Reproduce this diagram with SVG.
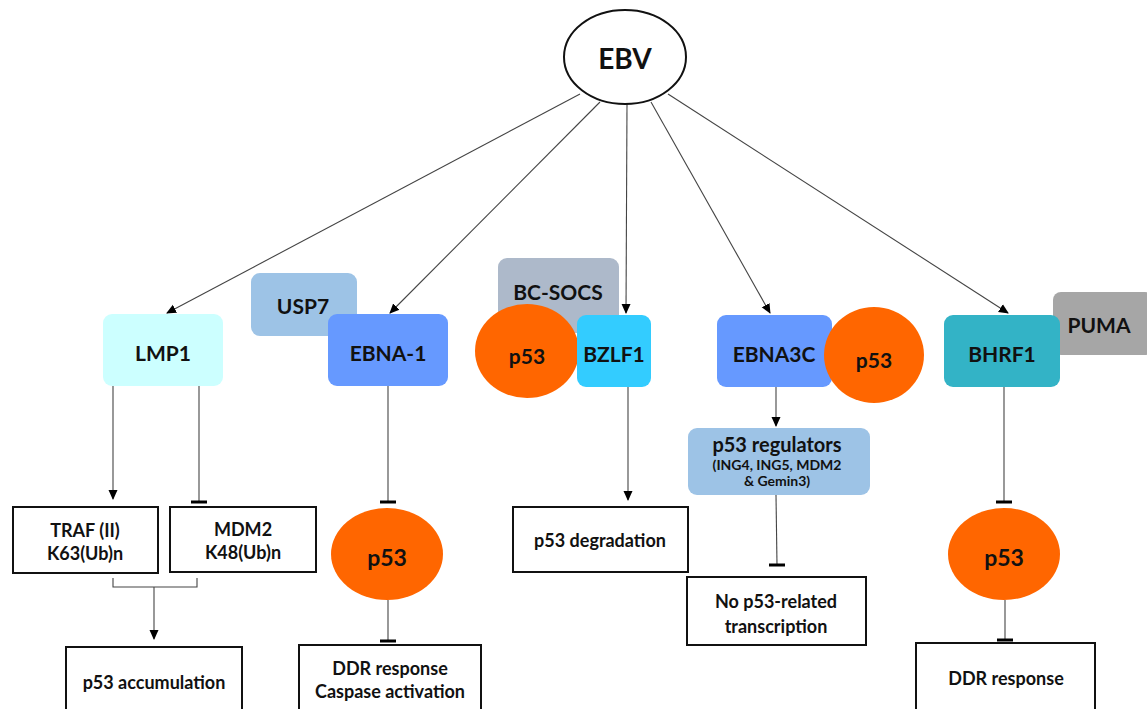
<svg xmlns="http://www.w3.org/2000/svg" width="1147" height="709" viewBox="0 0 1147 709">
<defs>
<marker id="arr" markerWidth="10" markerHeight="10" refX="9" refY="5" orient="auto" markerUnits="userSpaceOnUse">
<path d="M0,0.5 L10,5 L0,9.5 Z" fill="#000"/>
</marker>
<marker id="tbar" markerWidth="4" markerHeight="18" refX="2" refY="9" orient="auto" markerUnits="userSpaceOnUse">
<path d="M2,1 L2,17" stroke="#000" stroke-width="3"/>
</marker>
<style>
text{font-family:"Lato","Open Sans","Liberation Sans",sans-serif;font-weight:bold;fill:#111;text-anchor:middle;dominant-baseline:central}
.c{stroke:#444;stroke-width:1.1;fill:none}
.box{fill:#fff;stroke:#111;stroke-width:2}
.p53{fill:#FF6600}
.n{font-size:21px}
.b{font-size:18px}
</style>
</defs>
<rect width="1147" height="709" fill="#fff"/>

<g id="connectors">
<line class="c" x1="580" y1="94" x2="167" y2="313" marker-end="url(#arr)"/>
<line class="c" x1="600" y1="102" x2="390" y2="313" marker-end="url(#arr)"/>
<line class="c" x1="627" y1="104" x2="626" y2="313" marker-end="url(#arr)"/>
<line class="c" x1="651" y1="102" x2="770" y2="313" marker-end="url(#arr)"/>
<line class="c" x1="668" y1="94" x2="1008" y2="313" marker-end="url(#arr)"/>
<line class="c" x1="113" y1="386" x2="113" y2="499" marker-end="url(#arr)"/>
<line class="c" x1="199" y1="386" x2="199" y2="502" marker-end="url(#tbar)"/>
<polyline class="c" points="113,578 113,587 197,587 197,578"/>
<line class="c" x1="154" y1="587" x2="154" y2="639" marker-end="url(#arr)"/>
<line class="c" x1="388" y1="386" x2="388" y2="502" marker-end="url(#tbar)"/>
<line class="c" x1="388" y1="600" x2="388" y2="641" marker-end="url(#tbar)"/>
<line class="c" x1="628" y1="387" x2="628" y2="500" marker-end="url(#arr)"/>
<line class="c" x1="776" y1="387" x2="776" y2="426" marker-end="url(#arr)"/>
<line class="c" x1="776" y1="495" x2="777" y2="565" marker-end="url(#tbar)"/>
<line class="c" x1="1004" y1="387" x2="1004" y2="502" marker-end="url(#tbar)"/>
<line class="c" x1="1005" y1="600" x2="1005" y2="640" marker-end="url(#tbar)"/>
</g>

<g id="ebv">
<ellipse cx="625" cy="57" rx="61" ry="47" fill="#fff" stroke="#111" stroke-width="2"/>
<text x="625" y="58" style="font-size:28px">EBV</text>
</g>

<g id="lmp1">
<rect x="103" y="314" width="120" height="72" rx="9" fill="#CCFFFF"/>
<text class="n" x="163" y="352">LMP1</text>
</g>

<g id="usp7">
<rect x="251" y="273" width="106" height="63" rx="9" fill="#9DC3E6"/>
<text class="n" x="303" y="305">USP7</text>
</g>

<g id="ebna1">
<rect x="328" y="314" width="120" height="72" rx="9" fill="#6699FF"/>
<text class="n" x="388" y="352">EBNA-1</text>
</g>

<g id="bcsocs">
<rect x="498" y="258" width="121" height="75" rx="9" fill="#ADB9CA"/>
<text class="n" x="558" y="291">BC-SOCS</text>
</g>

<g id="p53-bzlf1">
<ellipse class="p53" cx="527" cy="351" rx="52" ry="47"/>
<text class="n" x="527" y="355">p53</text>
</g>

<g id="bzlf1">
<rect x="577" y="315" width="74" height="72" rx="9" fill="#33CCFF"/>
<text class="n" x="614" y="353">BZLF1</text>
</g>

<g id="ebna3c">
<rect x="717" y="315" width="115" height="72" rx="9" fill="#6699FF"/>
<text class="n" x="774" y="353">EBNA3C</text>
</g>

<g id="p53-ebna3c">
<ellipse class="p53" cx="874" cy="355" rx="50" ry="48"/>
<text class="n" x="874" y="359">p53</text>
</g>

<g id="puma">
<rect x="1053" y="292" width="100" height="63" rx="8" fill="#A6A6A6"/>
<text class="n" x="1099" y="324">PUMA</text>
</g>

<g id="bhrf1">
<rect x="944" y="315" width="116" height="72" rx="9" fill="#33B3C6"/>
<text class="n" x="1002" y="353">BHRF1</text>
</g>

<g id="traf">
<rect class="box" x="13" y="507" width="145" height="66"/>
<text class="b" x="85" y="530">TRAF (II)</text>
<text class="b" x="85" y="553">K63(Ub)n</text>
</g>

<g id="mdm2">
<rect class="box" x="170" y="507" width="146" height="65"/>
<text class="b" x="243" y="529">MDM2</text>
<text class="b" x="243" y="552">K48(Ub)n</text>
</g>

<g id="p53-accum">
<rect class="box" x="66" y="647" width="176" height="70"/>
<text class="b" x="154" y="682">p53 accumulation</text>
</g>

<g id="p53-ebna1">
<ellipse class="p53" cx="387" cy="554" rx="56" ry="46"/>
<text x="387" y="557" style="font-size:23px">p53</text>
</g>

<g id="ddr-caspase">
<rect class="box" x="299" y="645" width="182" height="70"/>
<text class="b" x="390" y="668">DDR response</text>
<text class="b" x="390" y="691">Caspase activation</text>
</g>

<g id="p53-degradation">
<rect class="box" x="513" y="507" width="175" height="65"/>
<text class="b" x="600" y="540">p53 degradation</text>
</g>

<g id="p53-regulators">
<rect x="688" y="428" width="182" height="67" rx="9" fill="#9DC3E6"/>
<text x="777" y="444" style="font-size:20px">p53 regulators</text>
<text x="777" y="464" style="font-size:14px">(ING4, ING5, MDM2</text>
<text x="777" y="480" style="font-size:14px">&amp; Gemin3)</text>
</g>

<g id="no-p53">
<rect class="box" x="687" y="577" width="179" height="68"/>
<text class="b" x="776" y="601">No p53-related</text>
<text class="b" x="776" y="626">transcription</text>
</g>

<g id="p53-bhrf1">
<ellipse class="p53" cx="1004" cy="554" rx="56" ry="46"/>
<text x="1004" y="557" style="font-size:23px">p53</text>
</g>

<g id="ddr">
<rect class="box" x="916" y="643" width="179" height="74"/>
<text class="b" x="1006" y="678">DDR response</text>
</g>
</svg>
